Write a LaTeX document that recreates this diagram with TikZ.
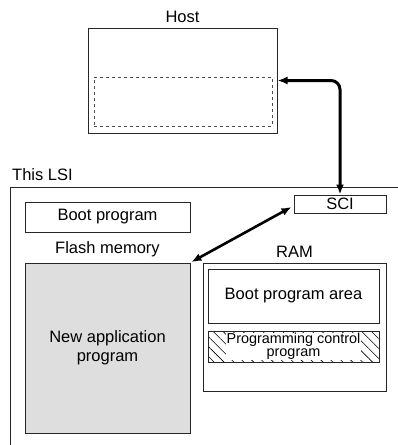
\documentclass[tikz,border=0pt]{standalone}
\usepackage{fontspec}
\setmainfont{Liberation Sans}
\usetikzlibrary{arrows.meta, positioning, patterns.meta}

\begin{document}
\begin{tikzpicture}[
    x=1pt, y=-1pt,
    every node/.style={font=\fontsize{16.5}{19}\selectfont},
    box/.style={rectangle, draw=black!85, line width=1pt, inner sep=0pt},
    dashbox/.style={rectangle, draw=black!70, dashed, line width=0.9pt, inner sep=0pt},
    flashbox/.style={box, fill=black!13},
    hatchbox/.style={box, pattern={Lines[angle=-45, distance=7pt, line width=0.6pt]}},
    lbl/.style={inner sep=1pt},
    arr/.style={{Latex[length=10pt,width=8pt]}-{Latex[length=10pt,width=8pt]}, line width=3pt},
    thinarr/.style={arr, line width=2.6pt},
]
\useasboundingbox (0,0) rectangle (398,445);
\clip (0,0) rectangle (398,445);

% host side
\node[box, minimum width=189, minimum height=105] (host) at (182.5,80.5) {};
\node[dashbox, minimum width=178, minimum height=49] (hostmem) at (183,101.5) {};
\node[lbl, above=4pt of host] (hostlbl) {Host};

% the LSI
\node[box, anchor=north west, minimum width=420, minimum height=300] (lsi) at (10,187) {};
\node[lbl, anchor=base west] (lsilbl) at (11,180) {This LSI};

\node[box, minimum width=165, minimum height=30] (boot) at (107.5,217) {Boot program};
\node[box, minimum width=92, minimum height=18] (sci) at (340,204) {SCI};

\node[flashbox, minimum width=165, minimum height=170, align=center] (flash) at (107.5,348)
    {New application\\program};
\node[lbl, above=4pt of flash] (flashlbl) {Flash memory};

\node[box, minimum width=183, minimum height=128] (ram) at (294.5,327) {};
\node[lbl, above=4pt of ram] (ramlbl) {RAM};
\node[box, minimum width=171, minimum height=54] (bootarea) at (293.5,296) {Boot program area};
\node[hatchbox, minimum width=171, minimum height=31] (progctl) at (293.5,346.5) {};
\node[fill=white, inner sep=0.5pt, align=center, font=\fontsize{14.4}{13}\selectfont] (progtxt)
    at (progctl) {Programming control\\program};

% connections
\draw[arr, rounded corners=9pt] (sci.north) |- (host.east);
\draw[thinarr, shorten >=1pt] (sci.west) ++(-2,3) coordinate (sciin) (sciin) -- (flash.north east);

\end{tikzpicture}
\end{document}
